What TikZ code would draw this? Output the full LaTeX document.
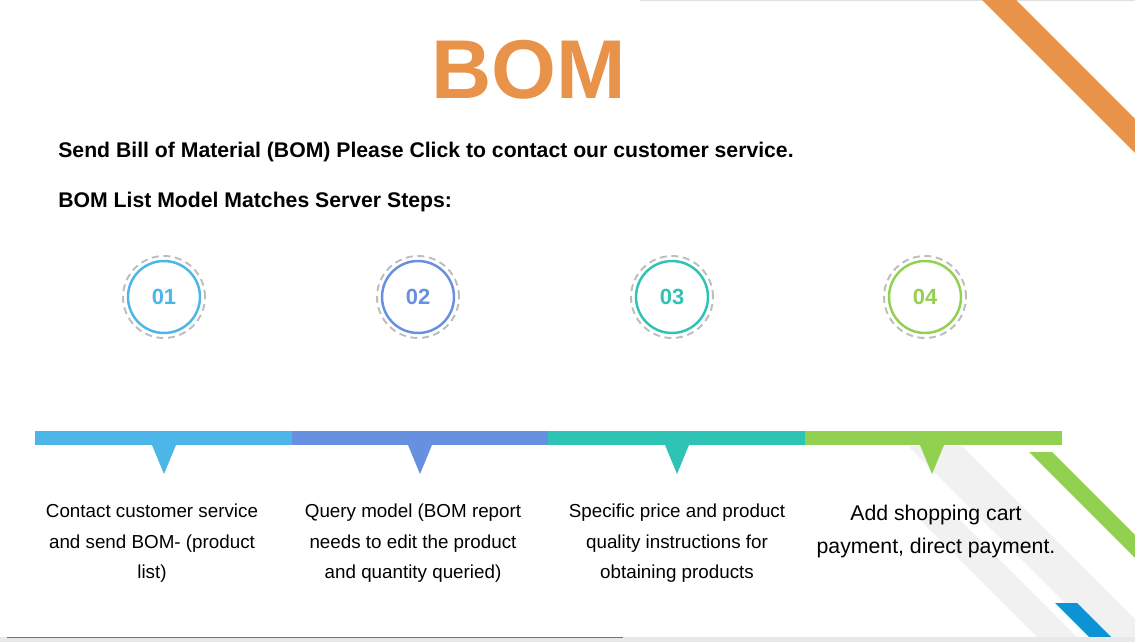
\documentclass[tikz,border=0pt]{standalone}
\usepackage{fontspec}
\setmainfont{Liberation Sans}
\usetikzlibrary{positioning}

\definecolor{bomorange}{HTML}{E8924A}
\definecolor{stepone}{HTML}{4BB6E7}
\definecolor{steptwo}{HTML}{6791E0}
\definecolor{stepthree}{HTML}{2FC3B5}
\definecolor{stepfour}{HTML}{92D050}
\definecolor{stripeblue}{HTML}{0B93D6}
\definecolor{ringgray}{HTML}{BDBDBD}
\definecolor{bandgray}{HTML}{F1F1F1}

\begin{document}
\begin{tikzpicture}[x=0.02cm,y=-0.02cm,
    ring/.style={circle, draw, line width=1.4pt, minimum size=1.44cm, inner sep=0pt,
      font=\fontsize{12.5}{15}\selectfont\bfseries},
    dashring/.style={draw=ringgray, line width=1.1pt, dash pattern=on 4pt off 2.6pt},
    steptext/.style={align=center, anchor=north, inner sep=0pt,
      font=\fontsize{10.7}{17.1}\selectfont}]

      \useasboundingbox (0,0) rectangle (1135,642);

      % faint frame lines, top right and bottom
      \draw[black!12, line width=0.6pt] (640,0.5) -- (1135,0.5);

      % light gray bands behind the last step
      \fill[bandgray] (908,446) -- (962,446) -- (1135,619) -- (1135,637) -- (1099,637) -- cycle;
      \fill[bandgray] (920,520) -- (960,520) -- (1077,637) -- (1037,637) -- cycle;

      % corner stripes
      \fill[bomorange] (982,0) -- (1016,0) -- (1135,119) -- (1135,153) -- cycle;
      \fill[stepfour] (1029,452) -- (1052,452) -- (1135,535) -- (1135,558) -- cycle;
      \fill[stripeblue] (1055,603) -- (1077,603) -- (1111,637) -- (1089,637) -- cycle;

      \fill[black!9] (0,637) rectangle (1135,642);
      \draw[black!55, line width=0.7pt] (7,637.5) -- (623,637.5);

      % title and the two lines under it
      \node[bomorange, anchor=base, font=\fontsize{47.5}{50}\selectfont\bfseries] (title) at (529,98) {BOM};
      \node[anchor=base west, inner sep=0pt, font=\fontsize{12.07}{14}\selectfont\bfseries] (send) at (58,157)
        {Send Bill of Material (BOM) Please Click to contact our customer service.};
      \node[anchor=base west, inner sep=0pt, font=\fontsize{12.07}{14}\selectfont\bfseries] (steps) at (58,207)
        {BOM List Model Matches Server Steps:};

      % the four numbered rings
      \node[ring, draw=stepone, text=stepone] (one) at (164,297) {01};
      \draw[dashring] (one.center) circle [radius=0.82cm];

      \node[ring, draw=steptwo, text=steptwo] (two) at (418,297) {02};
      \draw[dashring] (two.center) circle [radius=0.82cm];

      \node[ring, draw=stepthree, text=stepthree] (three) at (672,297) {03};
      \draw[dashring] (three.center) circle [radius=0.82cm];

      \node[ring, draw=stepfour, text=stepfour] (four) at (925,297) {04};
      \draw[dashring] (four.center) circle [radius=0.82cm];

      %Now the bar, one piece and one pointer for each step
      \fill[stepone] (35,431) rectangle (292,445);
      \fill[stepone] (152,445) -- (176,445) -- (164,474) -- cycle;

      \fill[steptwo] (292,431) rectangle (548,445);
      \fill[steptwo] (408,445) -- (432,445) -- (420,474) -- cycle;

      \fill[stepthree] (548,431) rectangle (805,445);
      \fill[stepthree] (665,445) -- (689,445) -- (677,474) -- cycle;

      \fill[stepfour] (805,431) rectangle (1062,445);
      \fill[stepfour] (920,445) -- (944,445) -- (932,474) -- cycle;

      % what each step means
      \node[steptext] (oneinfo) at (152,504) {Contact customer service\\and send BOM- (product\\list)};
      \node[steptext] (twoinfo) at (413,504) {Query model (BOM report\\needs to edit the product\\and quantity queried)};
      \node[steptext] (threeinfo) at (677,504) {Specific price and product\\quality instructions for\\obtaining products};
      \node[steptext, font=\fontsize{12.1}{18.8}\selectfont] (fourinfo) at (936,505)
        {Add shopping cart\\payment, direct payment.};

    \end{tikzpicture}
\end{document}
